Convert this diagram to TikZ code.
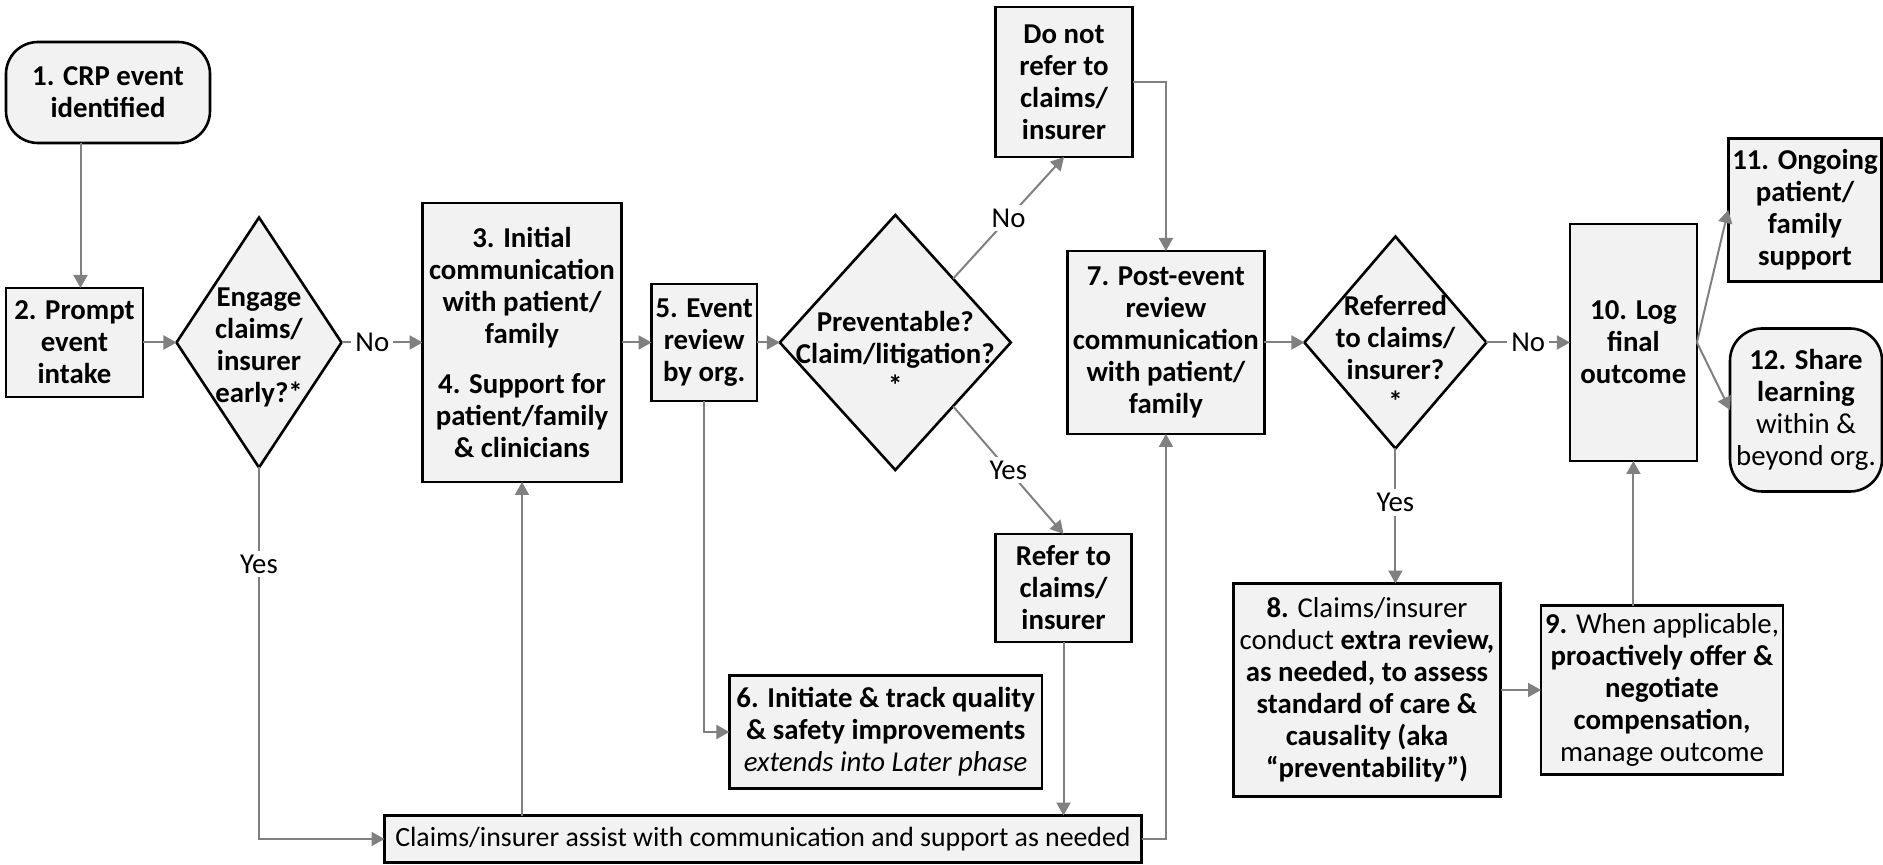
\documentclass[tikz,border=0pt]{standalone}
\usepackage{fontspec}
\setmainfont{Carlito}
\usepackage{tikz}
\usetikzlibrary{arrows.meta,positioning,shapes.geometric}
\newcommand{\flowfont}{\fontsize{14.4}{16}\selectfont}
\newcommand{\lift}[1]{\rule{0pt}{#1}}
\definecolor{Shade}{HTML}{F2F2F2}
\definecolor{Wire}{HTML}{808080}
\tikzset{
  box/.style={draw=black, line width=1.3pt, fill=Shade, align=center,
              inner sep=2pt, outer sep=0pt, font=\flowfont\bfseries},
  txtbox/.style={box, font=\flowfont},
  dia/.style={box, shape=diamond, inner sep=-14pt},
  term/.style={box, rounded corners=16pt},
  arrow/.style={-{Triangle[length=6.5pt,width=7pt]}, line width=1pt, draw=Wire},
  lbl/.style={fill=white, font=\flowfont, inner sep=2pt, text=black},
}
\begin{document}
\begin{tikzpicture}
  \useasboundingbox (0,0) rectangle (941.5pt,-432.5pt);
  % main row
  \node[box, minimum width=68.5pt, minimum height=54.5pt] (intake) at (37.25pt,-171.25pt) {2. Prompt\\event\\intake};
  \node[dia, minimum width=82.5pt, minimum height=125pt, right=16.75pt of intake] (early) {\lift{14pt}Engage\\claims/\\insurer\\early?*};
  \node[box, minimum width=99.5pt, minimum height=139.5pt, right=40.5pt of early] (initial) {3. Initial\\communication\\with patient/\\family\\[9pt]4. Support for\\patient/family\\\& clinicians};
  \node[box, minimum width=52.5pt, minimum height=58.5pt, right=15pt of initial] (review) {5. Event\\review\\by org.};
  \node[dia, minimum width=115.5pt, minimum height=127.5pt, right=11.5pt of review] (prevent) {\lift{21pt}Preventable?\\Claim/litigation?\\*};
  \node[box, minimum width=98.5pt, minimum height=91.5pt, right=28.3pt of prevent] (postcomm) {7. Post-event\\review\\communication\\with patient/\\family};
  \node[dia, minimum width=91pt, minimum height=106pt, right=20pt of postcomm] (referred) {\lift{21pt}Referred\\to claims/\\insurer?\\*};
  \node[box, minimum width=63.5pt, minimum height=118.5pt, right=41.75pt of referred] (logout) {10. Log\\final\\outcome};
  % others
  \node[term, minimum width=102pt, minimum height=50.5pt] (crp) at (54pt,-46.25pt) {1. CRP event\\identified};
  \node[box, minimum width=68.5pt, minimum height=75pt] (norefer) at (532pt,-41pt) {Do not\\refer to\\claims/\\insurer};
  \node[box, minimum width=68pt, minimum height=54pt] (refer) at (531.75pt,-294pt) {Refer to\\claims/\\insurer};
  \node[box, minimum width=156.3pt, minimum height=56.3pt] (quality) at (442.85pt,-366pt) {6. Initiate \& track quality\\\& safety improvements\\{\mdseries\itshape extends into Later phase}};
  \node[txtbox, minimum width=378.5pt, minimum height=23.5pt, font=\fontsize{13.9}{16}\selectfont] (assist) at (381.5pt,-419.5pt) {Claims/insurer assist with communication and support as needed};
  \node[txtbox, minimum width=133.5pt, minimum height=106.5pt] (extra) at (683.5pt,-345pt) {\textbf{8.} Claims/insurer\\conduct \textbf{extra review,}\\\textbf{as needed, to assess}\\\textbf{standard of care \&}\\\textbf{causality (aka}\\\textbf{“preventability”)}};
  \node[txtbox, minimum width=120pt, minimum height=84.5pt] (offer) at (831pt,-345pt) {\textbf{9.} When applicable,\\\textbf{proactively offer \&}\\\textbf{negotiate}\\\textbf{compensation,}\\manage outcome};
  \node[box, minimum width=76pt, minimum height=71.5pt] (ongoing) at (902.5pt,-105pt) {11. Ongoing\\patient/\\family\\support};
  \node[term, minimum width=76pt, minimum height=81.5pt] (share) at (903pt,-205pt) {12. Share\\learning\\{\mdseries within \&}\\{\mdseries beyond org.}};
  % connectors
  \draw[arrow] ([xshift=3pt]intake.north |- crp.south) -- ([xshift=3pt]intake.north);
  \draw[arrow] (intake) -- (early);
  \draw[arrow] (early) -- node[lbl, pos=0.38] {No} (initial);
  \draw[arrow] (early.south) |- node[lbl, pos=0.13] {Yes} (assist.west);
  \draw[arrow] (initial.south |- assist.north) -- (initial.south);
  \draw[arrow] (initial) -- (review);
  \draw[arrow] (review) -- (prevent);
  \draw[arrow] (review.south) |- (quality.west);
  \draw[arrow] (prevent.north east) -- node[lbl] {No} (norefer.south);
  \draw[arrow] (prevent.south east) -- node[lbl] {Yes} (refer.north);
  \draw[arrow] (norefer.east) -| (postcomm.north);
  \draw[arrow] (refer.south) -- (refer.south |- assist.north);
  \draw[arrow] (assist.east) -| (postcomm.south);
  \draw[arrow] (postcomm) -- (referred);
  \draw[arrow] (referred) -- node[lbl] {No} (logout);
  \draw[arrow] (referred.south) -- node[lbl, pos=0.4] {Yes} (referred.south |- extra.north);
  \draw[arrow] (extra) -- (offer);
  \draw[arrow] (logout.south |- offer.north) -- (logout.south);
  \draw[arrow] (logout.east) -- (ongoing.west);
  \draw[arrow] (logout.east) -- (share.west);
\end{tikzpicture}
\end{document}
